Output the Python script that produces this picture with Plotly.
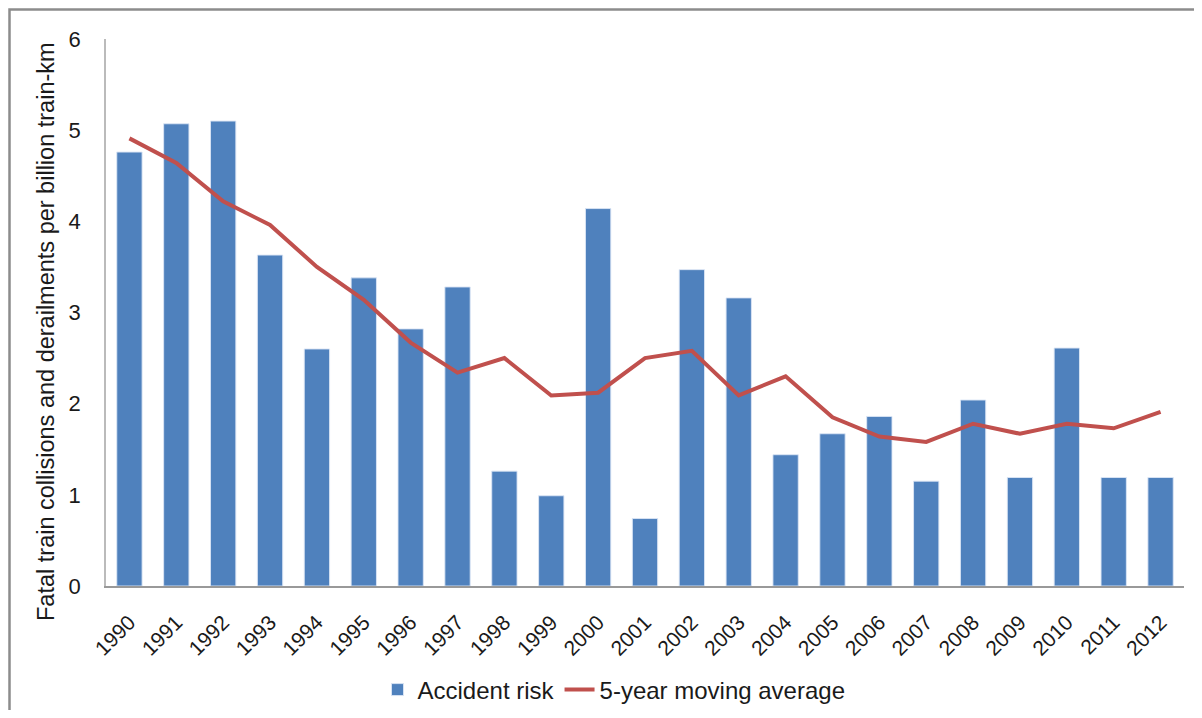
import plotly.graph_objects as go

years = [str(y) for y in range(1990, 2013)]
accident_risk = [4.76, 5.07, 5.10, 3.63, 2.60, 3.38, 2.82, 3.28, 1.26, 0.99, 4.14, 0.74,
                 3.47, 3.16, 1.44, 1.67, 1.86, 1.15, 2.04, 1.19, 2.61, 1.19, 1.19]
moving_avg = [4.91, 4.64, 4.22, 3.96, 3.50, 3.14, 2.67, 2.34, 2.50, 2.09, 2.12, 2.50,
              2.58, 2.09, 2.30, 1.85, 1.64, 1.58, 1.78, 1.67, 1.78, 1.73, 1.91]
y_ticks = [0, 1, 2, 3, 4, 5, 6]
y_title = "Fatal train collisions and derailments per billion train-km"

FONT = "Liberation Sans"
TXT = "#1a1a1a"

fig = go.Figure()
fig.add_trace(go.Bar(
    x=years, y=accident_risk, name="Accident risk",
    marker=dict(color="#4F81BD", line=dict(color="rgba(220,230,245,0.9)", width=1)),
))
fig.add_trace(go.Scatter(
    x=years, y=moving_avg, name="5-year moving average", mode="lines",
    line=dict(color="#C0504D", width=4),
))

# page body has an 8px margin; figure origin sits at (8, 8) in the window
OFF = 8
W, H = 1202 - 2 * OFF, 718 - 2 * OFF
L = 106 - OFF
T = 39 - OFF
R = W - (1184 - OFF)
B = H - (586 - OFF)
pw, ph = W - L - R, H - T - B

fig.update_layout(
    width=W, height=H, autosize=False,
    margin=dict(l=L, r=R, t=T, b=B, autoexpand=False),
    plot_bgcolor="white", paper_bgcolor="white",
    bargap=0.46,
    font=dict(family=FONT, color=TXT),
    showlegend=True,
    legend=dict(orientation="h", xref="paper", x=(614 - 106) / pw, xanchor="center",
                yref="container", y=(H - (690 - OFF)) / H, yanchor="middle",
                font=dict(size=24, family=FONT, color=TXT), traceorder="normal"),
    xaxis=dict(
        type="category", tickangle=-45, tickfont=dict(size=21, family=FONT, color=TXT),
        showline=True, linecolor="#999999", linewidth=1.5, showgrid=False,
        ticks="", zeroline=False, ticklabelstandoff=14, automargin=False,
    ),
    yaxis=dict(
        range=[0, 6], tickvals=y_ticks, tickfont=dict(size=22, family=FONT, color=TXT),
        showline=True, linecolor="#BBBBBB", linewidth=1.5, showgrid=False,
        zeroline=False, ticks="", ticklabelstandoff=19, automargin=False,
    ),
    annotations=[dict(
        text=y_title, textangle=-90, showarrow=False,
        xref="paper", yref="paper",
        x=(46 - 106) / pw, y=(586 - 332) / ph, xanchor="center", yanchor="middle",
        font=dict(size=23.5, family=FONT, color=TXT),
    )],
    shapes=[dict(type="rect", xref="paper", yref="paper",
                 x0=(OFF + 1.5 - 106) / pw, x1=1.2, y0=-0.5, y1=(586 - OFF - 1.5) / ph,
                 line=dict(color="#8C8C8C", width=2.5), fillcolor="rgba(0,0,0,0)",
                 layer="below")],
)

fig.write_html("out.html")
